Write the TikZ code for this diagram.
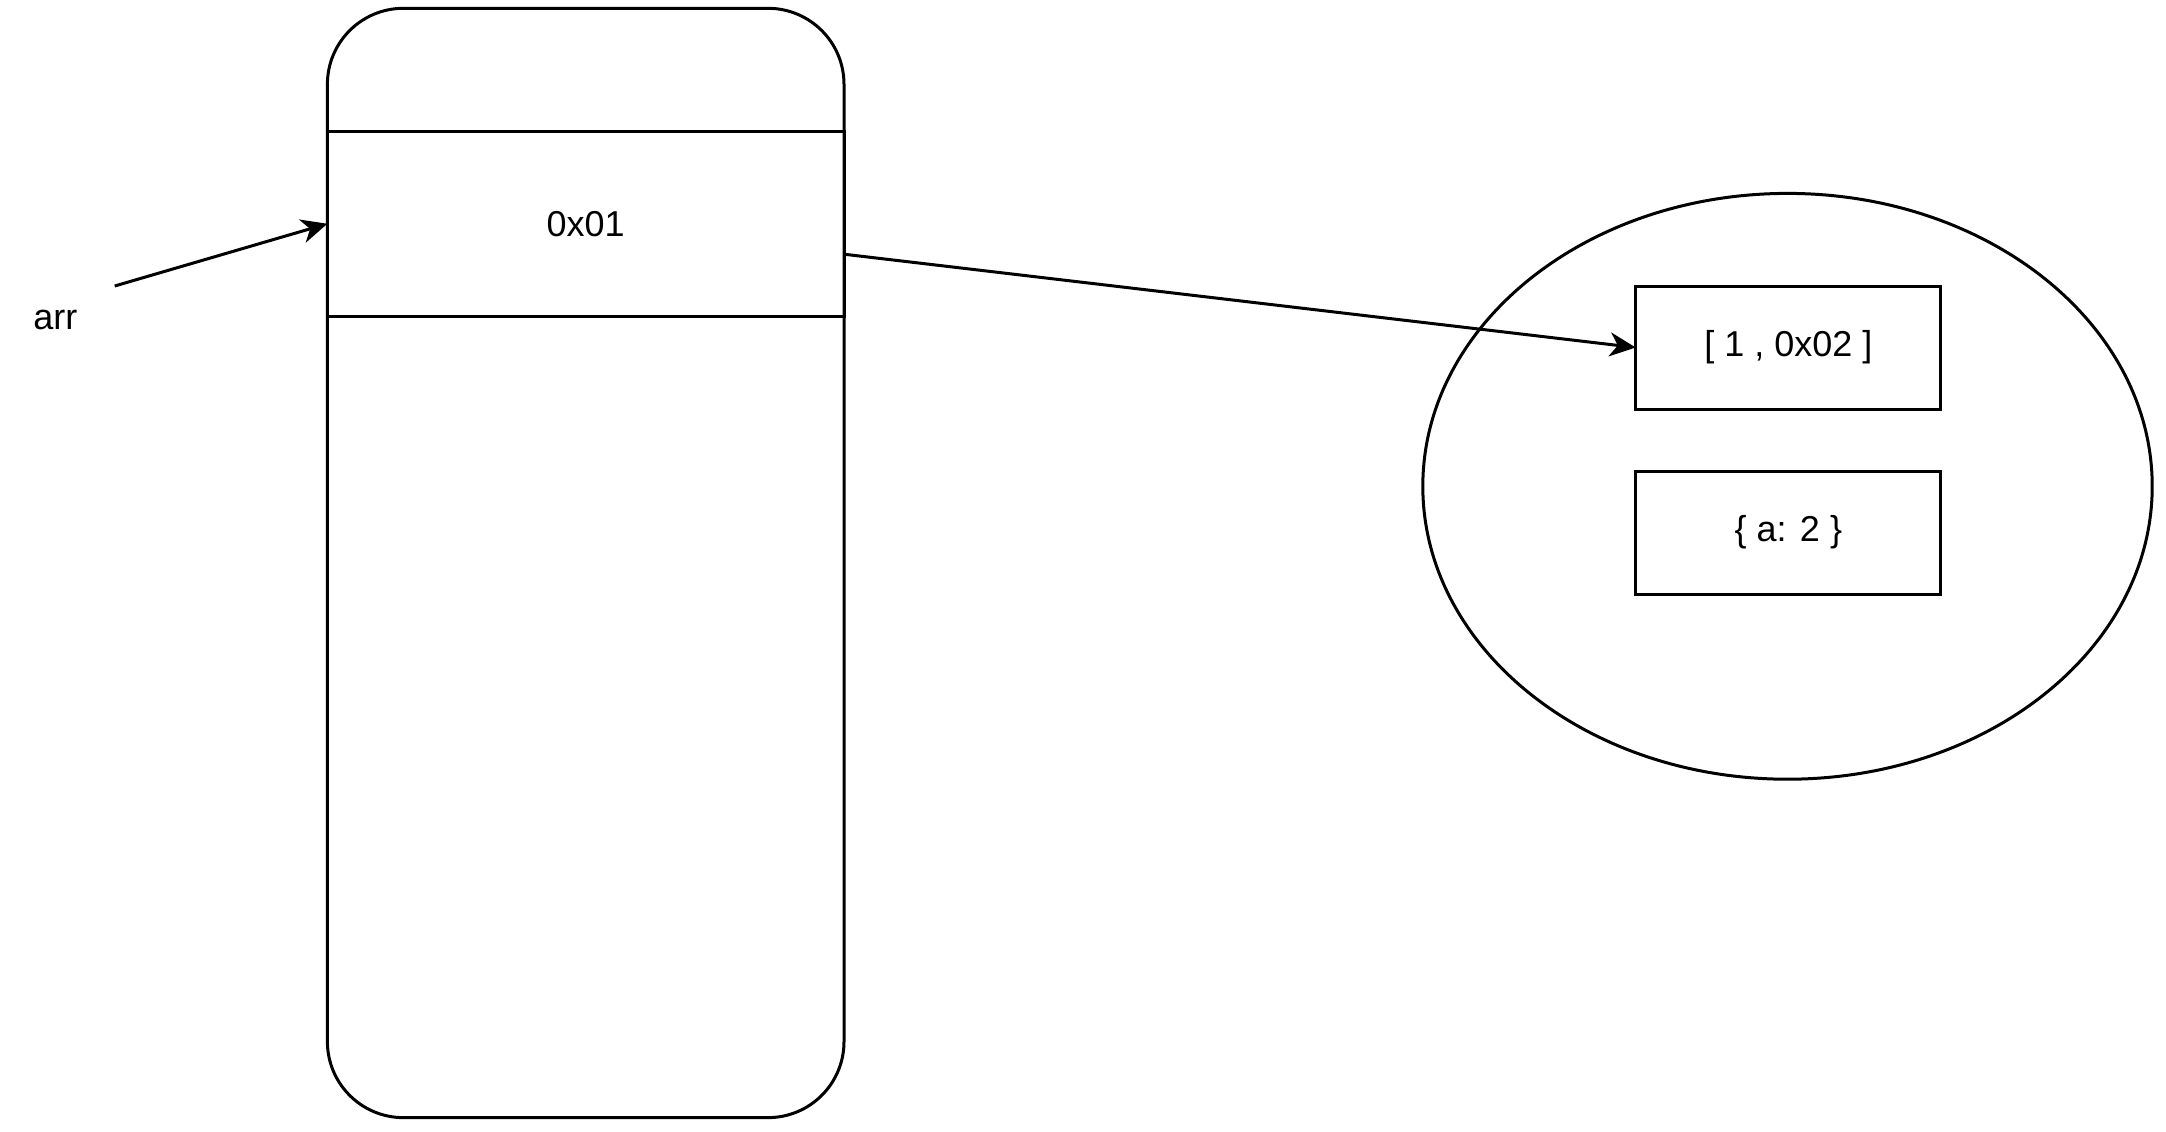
\documentclass[tikz,border=0pt]{standalone}
\usepackage{fontspec}
\setmainfont{Liberation Sans}
\usetikzlibrary{shapes.geometric,arrows.meta}
\begin{document}
\begin{tikzpicture}[x=0.5pt,y=-0.5pt,
  every node/.style={font=\fontsize{18}{21.6}\selectfont, inner sep=0pt, outer sep=0pt},
  ln/.style={line width=1.5pt, draw=black},
  box/.style={ln, rectangle, minimum width=152.6pt, minimum height=61.5pt},
  arrowln/.style={line width=1.5pt, -{Stealth[length=13pt,width=12pt,inset=4pt]}}
]
\useasboundingbox (0,0) rectangle (2166,1131);
\node[ln, rectangle, rounded corners=38pt, minimum width=258.3pt, minimum height=554.65pt] (mem) at (585.7,562.95) {};
\node[ln, rectangle, minimum width=258.3pt, minimum height=92.55pt] (cell) at (585.7,223.75) {0x01};
\node (arr) at (55.3,320) {arr};
\coordinate (arrtail) at (114.7,286);
\draw[arrowln] (arrtail) -- (cell.west);
\node[ln, ellipse, minimum width=364.7pt, minimum height=292.9pt] (heap) at (1787.5,486.3) {};
\node[box] (b1) at (1788.3,347.5) {\raisebox{-1.5pt}{[ 1 , 0x02 ]}};
\node[box] (b2) at (1788.3,532.5) {\raisebox{-1pt}{\{ a: 2 \}}};
\coordinate (celltail) at (844,254.2);
\draw[arrowln] (celltail) -- (b1.west);
\end{tikzpicture}
\end{document}
